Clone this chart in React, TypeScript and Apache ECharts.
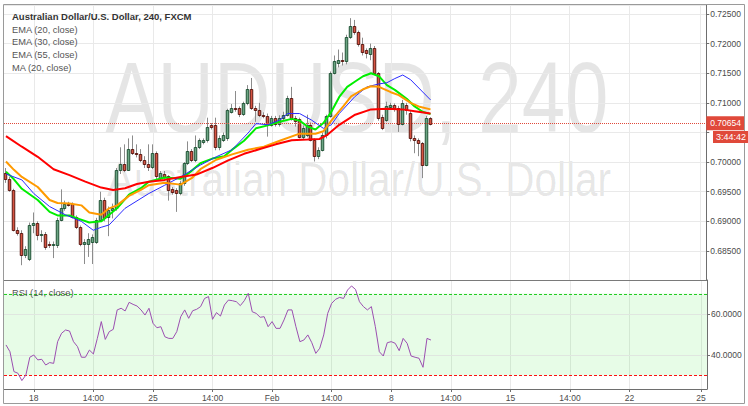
import React, { useEffect, useRef } from 'react';
import * as echarts from 'echarts';

// ---- x axis (4-hour slots) ----
const SLOT_COUNT = 177;
const tickLabels = ['18', '14:00', '25', '14:00', 'Feb', '14:00', '8', '14:00', '15', '14:00', '22', '25'];
const tickSlots = [7, 22, 37, 52, 67, 82, 97, 112, 127, 142, 157, 175];

// ---- AUD/USD 240 candles ----
const opens = [
  0.6981, 0.6971, 0.6953, 0.6885, 0.6880, 0.6843, 0.6836, 0.6894, 0.6897, 0.6877,
  0.6878, 0.6862, 0.6860, 0.6860, 0.6903, 0.6922, 0.6929, 0.6929, 0.6908, 0.6891,
  0.6862, 0.6862, 0.6866, 0.6866, 0.6903, 0.6936, 0.6908, 0.6919, 0.6922, 0.6987,
  0.6997, 0.6987, 0.7022, 0.7016, 0.7014, 0.7004, 0.6997, 0.6992, 0.7015, 0.6973,
  0.6980, 0.6976, 0.6955, 0.6953, 0.6948, 0.6964, 0.6998, 0.7018, 0.7004, 0.7026,
  0.7034, 0.7037, 0.7063, 0.7063, 0.7025, 0.7038, 0.7040, 0.7085, 0.7092, 0.7091,
  0.7081, 0.7099, 0.7124, 0.7092, 0.7088, 0.7080, 0.7078, 0.7063, 0.7074, 0.7064,
  0.7075, 0.7080, 0.7108, 0.7074, 0.7072, 0.7043, 0.7046, 0.7063, 0.7038, 0.7011,
  0.7021, 0.7046, 0.7077, 0.7151, 0.7168, 0.7172, 0.7170, 0.7212, 0.7229, 0.7220,
  0.7200, 0.7189, 0.7183, 0.7193, 0.7150, 0.7076, 0.7071, 0.7093, 0.7096, 0.7092,
  0.7065, 0.7097, 0.7083, 0.7041, 0.7037, 0.7032, 0.6995, 0.7074,
];
const closes = [
  0.6971, 0.6953, 0.6885, 0.6880, 0.6843, 0.6853, 0.6894, 0.6897, 0.6877, 0.6878,
  0.6857, 0.6860, 0.6862, 0.6903, 0.6922, 0.6929, 0.6928, 0.6908, 0.6891, 0.6862,
  0.6866, 0.6870, 0.6874, 0.6903, 0.6936, 0.6905, 0.6919, 0.6922, 0.6987, 0.6997,
  0.6987, 0.7022, 0.7016, 0.7014, 0.7004, 0.6997, 0.6992, 0.7015, 0.6976, 0.6981,
  0.6975, 0.6953, 0.6950, 0.6948, 0.6964, 0.6998, 0.7018, 0.7004, 0.7026, 0.7037,
  0.7037, 0.7060, 0.7060, 0.7025, 0.7040, 0.7045, 0.7088, 0.7092, 0.7090, 0.7081,
  0.7099, 0.7124, 0.7092, 0.7088, 0.7080, 0.7078, 0.7063, 0.7074, 0.7064, 0.7075,
  0.7080, 0.7108, 0.7074, 0.7070, 0.7043, 0.7057, 0.7063, 0.7038, 0.7011, 0.7021,
  0.7046, 0.7077, 0.7151, 0.7170, 0.7172, 0.7170, 0.7212, 0.7229, 0.7220, 0.7200,
  0.7186, 0.7184, 0.7193, 0.7150, 0.7074, 0.7057, 0.7094, 0.7096, 0.7091, 0.7065,
  0.7099, 0.7088, 0.7041, 0.7037, 0.7032, 0.6995, 0.7074, 0.7065,
];
const lows = [
  0.6965, 0.6950, 0.6883, 0.6876, 0.6826, 0.6838, 0.6833, 0.6880, 0.6868, 0.6865,
  0.6852, 0.6855, 0.6838, 0.6855, 0.6900, 0.6918, 0.6925, 0.6905, 0.6887, 0.6858,
  0.6828, 0.6840, 0.6828, 0.6862, 0.6900, 0.6900, 0.6875, 0.6905, 0.6918, 0.6980,
  0.6983, 0.6985, 0.7012, 0.7008, 0.7000, 0.6990, 0.6985, 0.6988, 0.6970, 0.6968,
  0.6970, 0.6935, 0.6945, 0.6916, 0.6944, 0.6960, 0.6995, 0.7000, 0.7000, 0.7022,
  0.7030, 0.7033, 0.7055, 0.7020, 0.7020, 0.7034, 0.7036, 0.7082, 0.7085, 0.7076,
  0.7078, 0.7096, 0.7088, 0.7068, 0.7076, 0.7074, 0.7043, 0.7060, 0.7060, 0.7060,
  0.7070, 0.7077, 0.7070, 0.7060, 0.7040, 0.7038, 0.7042, 0.7035, 0.7001, 0.7005,
  0.7018, 0.7040, 0.7075, 0.7148, 0.7160, 0.7163, 0.7165, 0.7208, 0.7215, 0.7195,
  0.7180, 0.7175, 0.7172, 0.7148, 0.7070, 0.7054, 0.7068, 0.7088, 0.7085, 0.7051,
  0.7062, 0.7080, 0.7035, 0.7015, 0.7010, 0.6973, 0.6993, 0.7062,
];
const highs = [
  0.6990, 0.6975, 0.6955, 0.6890, 0.6885, 0.6858, 0.6898, 0.6915, 0.6900, 0.6885,
  0.6882, 0.6866, 0.6866, 0.6906, 0.6954, 0.6935, 0.6933, 0.6932, 0.6910, 0.6893,
  0.6870, 0.6880, 0.6878, 0.6906, 0.6950, 0.6940, 0.6925, 0.6930, 0.6990, 0.7025,
  0.7030, 0.7040, 0.7045, 0.7030, 0.7022, 0.7010, 0.7030, 0.7030, 0.7018, 0.6985,
  0.6985, 0.6978, 0.6958, 0.6956, 0.6968, 0.7000, 0.7035, 0.7022, 0.7045, 0.7040,
  0.7040, 0.7075, 0.7066, 0.7075, 0.7045, 0.7050, 0.7090, 0.7098, 0.7120, 0.7094,
  0.7102, 0.7130, 0.7142, 0.7095, 0.7100, 0.7084, 0.7082, 0.7078, 0.7078, 0.7079,
  0.7085, 0.7112, 0.7127, 0.7078, 0.7075, 0.7062, 0.7080, 0.7067, 0.7040, 0.7025,
  0.7050, 0.7080, 0.7153, 0.7180, 0.7190, 0.7185, 0.7215, 0.7243, 0.7240, 0.7222,
  0.7210, 0.7192, 0.7200, 0.7196, 0.7152, 0.7080, 0.7102, 0.7100, 0.7099, 0.7095,
  0.7105, 0.7100, 0.7088, 0.7045, 0.7040, 0.7034, 0.7078, 0.7076,
];

// ---- indicator lines, read at slot positions ----
const ema20Green = [
  [0, 0.6984], [2, 0.6971], [4, 0.6955], [8, 0.6936], [11, 0.6916], [13, 0.6910], [16, 0.6910],
  [18, 0.6905], [21, 0.6898], [24, 0.6900], [26, 0.6911], [28, 0.6922], [31, 0.6945], [34, 0.6956],
  [36, 0.6967], [40, 0.6974], [44, 0.6972], [46, 0.6981], [49, 0.6998], [52, 0.7006], [55, 0.7010],
  [57, 0.7021], [60, 0.7036], [63, 0.7057], [66, 0.7062], [69, 0.7068], [72, 0.7073], [74, 0.7070],
  [76, 0.7060], [78, 0.7055], [80, 0.7066], [82, 0.7085], [84, 0.7110], [86, 0.7127], [88, 0.7136],
  [90, 0.7145], [92, 0.7150], [94, 0.7145], [96, 0.7130], [98, 0.7122], [101, 0.7107], [103, 0.7094],
  [105, 0.7085], [107, 0.7081],
];
const ma20Blue = [
  [0, 0.6980], [4, 0.6970], [7, 0.6947], [11, 0.6925], [15, 0.6911], [19, 0.6900], [22, 0.6885],
  [24, 0.6890], [26, 0.6894], [30, 0.6922], [36, 0.6947], [40, 0.6961], [44, 0.6975], [49, 0.6995],
  [53, 0.7009], [57, 0.7021], [61, 0.7049], [63, 0.7065], [66, 0.7063], [69, 0.7071], [71, 0.7082],
  [74, 0.7082], [77, 0.7071], [80, 0.7057], [82, 0.7063], [84, 0.7082], [88, 0.7111], [91, 0.7127],
  [94, 0.7132], [96, 0.7134], [98, 0.7141], [100, 0.7147], [102, 0.7139], [107, 0.7105],
];
const ema30Orange = [
  [0, 0.7001], [2, 0.6987], [4, 0.6975], [8, 0.6958], [11, 0.6936], [13, 0.6931], [16, 0.6930],
  [19, 0.6927], [21, 0.6915], [24, 0.6911], [26, 0.6922], [28, 0.6927], [31, 0.6943], [34, 0.6953],
  [36, 0.6961], [40, 0.6965], [44, 0.6962], [47, 0.6974], [49, 0.6988], [53, 0.7004], [57, 0.7013],
  [61, 0.7021], [65, 0.7026], [69, 0.7036], [74, 0.7048], [78, 0.7048], [80, 0.7052], [82, 0.7070],
  [85, 0.7094], [87, 0.7111], [90, 0.7123], [92, 0.7128], [94, 0.7127], [97, 0.7118], [99, 0.7113],
  [102, 0.7100], [104, 0.7094], [107, 0.7089],
];
const ema55Red = [
  [0, 0.7044], [4, 0.7026], [8, 0.7009], [12, 0.6988], [16, 0.6978], [20, 0.6967], [24, 0.6957],
  [27, 0.6953], [30, 0.6956], [33, 0.6963], [36, 0.6967], [40, 0.6970], [44, 0.6975], [48, 0.6979],
  [52, 0.6990], [56, 0.7003], [60, 0.7014], [64, 0.7022], [68, 0.7030], [72, 0.7037], [76, 0.7038],
  [79, 0.7039], [81, 0.7046], [84, 0.7063], [88, 0.7080], [92, 0.7089], [96, 0.7090], [100, 0.7089],
  [103, 0.7086], [107, 0.7082],
];

// ---- RSI (14, close) ----
const rsiValues = [
  44.9, 41.6, 31.9, 31.1, 27.5, 30.2, 38.9, 40.0, 37.6, 37.9,
  35.1, 36.3, 35.9, 46.5, 50.6, 52.2, 51.7, 46.5, 44.1, 38.9,
  38.9, 42.4, 40.5, 48.1, 56.3, 47.6, 51.4, 52.5, 62.0, 62.8,
  61.5, 65.7, 64.7, 63.9, 62.0, 59.5, 62.8, 55.5, 53.3, 53.8,
  48.9, 48.1, 48.1, 51.4, 58.7, 62.0, 57.9, 61.6, 62.3, 63.6,
  67.6, 68.5, 57.4, 60.7, 59.0, 64.4, 66.8, 66.5, 66.0, 64.1,
  66.5, 70.1, 61.1, 60.3, 58.4, 58.7, 53.8, 56.3, 53.0, 53.0,
  57.1, 62.0, 62.0, 53.8, 46.5, 47.3, 49.8, 46.0, 40.8, 43.3,
  49.8, 60.3, 65.2, 67.2, 68.1, 67.6, 71.7, 73.7, 72.0, 66.0,
  63.6, 62.0, 63.6, 53.8, 41.6, 39.5, 46.0, 46.5, 45.7, 42.1,
  48.1, 45.7, 39.5, 38.9, 38.4, 34.0, 48.1, 47.3,
];
const rsiBand = [30, 70];
const rsiGridValues = [40, 60];

const lastPrice = 0.70654;
const countdown = '3:44:42';
const legendTitle = 'Australian Dollar/U.S. Dollar, 240, FXCM';
const legendStudies = ['EMA (20, close)', 'EMA (30, close)', 'EMA (55, close)', 'MA (20, close)'];

const FONT = '"Liberation Sans", Arial, sans-serif';
const AXIS_TXT = '#4a4a4a';
const PRICE_RED = '#e0493a';

// full-width horizontal rule drawn through the axis scale
const hRule = (name: string, xAxisIndex: number, yAxisIndex: number, value: number,
  stroke: string, dash: number[] | null, z: number) => ({
  type: 'custom',
  name,
  xAxisIndex,
  yAxisIndex,
  data: [[0, value]],
  encode: { x: 0, y: 1 },
  silent: true,
  z,
  clip: false,
  renderItem: (params: any, api: any) => {
    const cs = params.coordSys;
    const y = Math.round(api.coord([0, api.value(1)])[1]) + 0.5;
    return {
      type: 'line',
      shape: { x1: cs.x, y1: y, x2: cs.x + cs.width, y2: y },
      style: { stroke, lineWidth: 1, lineDash: dash || undefined },
    };
  },
});

export default function App() {
  const ref = useRef<HTMLDivElement>(null);

  useEffect(() => {
    if (!ref.current) return;
    const chart = echarts.init(ref.current, undefined, { renderer: 'svg' });
    const slots = Array.from({ length: SLOT_COUNT }, (_, i) => String(i));
    const isTick = (i: number) => tickSlots.indexOf(i) >= 0;
    const candleData = opens.map((o, i) => [i, o, closes[i], lows[i], highs[i]]);
    const rsiData = rsiValues.map((v, i) => [i, v]);

    const xBase = (gridIndex: number, showLabels: boolean) => ({
      type: 'category',
      gridIndex,
      data: slots,
      boundaryGap: true,
      axisLine: { show: showLabels, lineStyle: { color: '#6e6e6e', width: 1 } },
      axisTick: {
        show: showLabels,
        alignWithLabel: true,
        interval: (i: number) => isTick(i),
        length: 3,
        lineStyle: { color: '#6e6e6e' },
      },
      axisLabel: {
        show: showLabels,
        interval: (i: number) => isTick(i),
        formatter: (v: string) => {
          const k = tickSlots.indexOf(Number(v));
          return k >= 0 ? tickLabels[k] : '';
        },
        color: AXIS_TXT,
        fontSize: 8.5,
        fontFamily: FONT,
        margin: 4,
      },
      splitLine: {
        show: true,
        alignWithLabel: true,
        interval: (i: number) => isTick(i),
        lineStyle: { color: '#e9e9e9', width: 1 },
      },
    });

    const lineSeries = (
      name: string, data: number[][], color: string, width: number,
      xAxisIndex = 0, yAxisIndex = 0, z = 5,
    ) => ({
      name,
      type: 'line',
      xAxisIndex,
      yAxisIndex,
      data,
      showSymbol: false,
      symbol: 'none',
      lineStyle: { color, width },
      z,
      silent: true,
    });

    const option: any = {
      animation: false,
      backgroundColor: '#ffffff',
      grid: [
        { left: 4, top: 5.11, width: 703, height: 275.5, show: false },
        { left: 4, top: 280, width: 703, height: 109, show: false },
      ],
      xAxis: [xBase(0, false), xBase(1, true)],
      yAxis: [
        {
          type: 'value',
          gridIndex: 0,
          position: 'right',
          min: 0.68,
          max: 0.7265,
          interval: 0.005,
          axisLine: { show: true, lineStyle: { color: '#6e6e6e' } },
          axisTick: { show: true, length: 3, lineStyle: { color: '#6e6e6e' } },
          axisLabel: {
            showMinLabel: false,
            showMaxLabel: false,
            // the label next to the live price is hidden under the price/countdown boxes
            formatter: (v: number) => (Math.abs(v - lastPrice) < 0.0025 ? '' : v.toFixed(5)),
            color: AXIS_TXT,
            fontSize: 8.5,
            fontFamily: FONT,
            margin: 4,
          },
          splitLine: { show: true, lineStyle: { color: '#e9e9e9' } },
        },
        {
          type: 'value',
          gridIndex: 1,
          position: 'right',
          min: 23.4,
          max: 76.6,
          axisLine: { show: true, lineStyle: { color: '#6e6e6e' } },
          axisTick: { show: true, length: 3, customValues: rsiGridValues, lineStyle: { color: '#6e6e6e' } },
          axisLabel: {
            customValues: rsiGridValues,
            formatter: (v: number) => v.toFixed(4),
            color: AXIS_TXT,
            fontSize: 8.5,
            fontFamily: FONT,
            margin: 4,
          },
          splitLine: { show: false },
        },
        {
          // live-price tag on the price scale
          type: 'value',
          gridIndex: 0,
          position: 'right',
          min: 0.68,
          max: 0.7265,
          axisLine: { show: false },
          axisTick: { show: false },
          splitLine: { show: false },
          axisLabel: {
            customValues: [lastPrice],
            formatter: (v: number) => v.toFixed(5),
            color: '#ffffff',
            backgroundColor: PRICE_RED,
            padding: [3, 4, 2, 4],
            fontSize: 8.5,
            fontFamily: FONT,
            margin: 0,
          },
          z: 20,
        },
      ],
      graphic: [
        {
          type: 'text', x: 357, y: 97, z: -10, silent: true, scaleY: 1.28,
          style: { text: 'AUDUSD, 240', font: `78px ${FONT}`, fill: 'rgba(0,0,0,0.1)', textAlign: 'center', textVerticalAlign: 'middle' },
        },
        {
          type: 'text', x: 359, y: 179, z: -10, silent: true, scaleY: 1.2,
          style: { text: 'Australian Dollar/U.S. Dollar', font: `40.5px ${FONT}`, fill: 'rgba(0,0,0,0.1)', textAlign: 'center', textVerticalAlign: 'middle' },
        },
        {
          type: 'text', x: 12, y: 16, z: 50, silent: true,
          style: { text: legendTitle, font: `bold 9.5px ${FONT}`, fill: '#333333', textVerticalAlign: 'middle' },
        },
        ...legendStudies.map((t, k) => ({
          type: 'text', x: 12, y: 29.5 + k * 12.9, z: 50, silent: true,
          style: { text: t, font: `9.3px ${FONT}`, fill: '#555555', textVerticalAlign: 'middle' },
        })),
        {
          type: 'text', x: 12, y: 293, z: 50, silent: true,
          style: { text: 'RSI (14, close)', font: `9.3px ${FONT}`, fill: '#555555', textVerticalAlign: 'middle' },
        },
        {
          type: 'text', x: 713, y: 137, z: 60, silent: true,
          style: {
            text: countdown, font: `9px ${FONT}`, fill: '#ffffff', textVerticalAlign: 'middle',
            backgroundColor: PRICE_RED, padding: [2, 4, 1, 3],
          },
        },
        {
          type: 'line', z: 40, silent: true,
          shape: { x1: 4, y1: 280.5, x2: 707, y2: 280.5 },
          style: { stroke: '#7a7a7a', lineWidth: 1 },
        },
        {
          type: 'rect', z: 40, silent: true,
          shape: { x: 3.5, y: 4.5, width: 741, height: 399 },
          style: { fill: 'none', stroke: '#9a9a9a', lineWidth: 1 },
        },
      ],
      series: [
        {
          type: 'custom',
          name: 'AUDUSD',
          xAxisIndex: 0,
          yAxisIndex: 0,
          data: candleData,
          encode: { x: 0, y: [1, 2, 3, 4] },
          z: 3,
          silent: true,
          renderItem: (params: any, api: any) => {
            const i = api.value(0);
            const o = api.value(1);
            const c = api.value(2);
            const l = api.value(3);
            const h = api.value(4);
            const pO = api.coord([i, o]);
            const pC = api.coord([i, c]);
            const pL = api.coord([i, l]);
            const pH = api.coord([i, h]);
            const cx = Math.round(pO[0]);
            const up = c >= o;
            const top = Math.round(Math.min(pO[1], pC[1]));
            const bot = Math.round(Math.max(pO[1], pC[1]));
            return {
              type: 'group',
              children: [
                {
                  type: 'line',
                  shape: { x1: cx - 0.5, y1: pH[1], x2: cx - 0.5, y2: pL[1] },
                  style: { stroke: '#8c8c8c', lineWidth: 1 },
                },
                {
                  type: 'rect',
                  shape: { x: cx - 1.75, y: top + 0.5, width: 2.5, height: Math.max(bot - top, 1) },
                  style: {
                    fill: up ? '#6ba583' : '#d75442',
                    stroke: up ? '#225437' : '#5b1a13',
                    lineWidth: 1,
                  },
                },
              ],
            };
          },
        },
        hRule('last price', 0, 0, lastPrice, PRICE_RED, [1, 1], 4),
        lineSeries('EMA (20, close)', ema20Green, '#00ee00', 2),
        lineSeries('MA (20, close)', ma20Blue, '#2b2bff', 1),
        lineSeries('EMA (30, close)', ema30Orange, '#ff9a00', 2),
        lineSeries('EMA (55, close)', ema55Red, '#ff0000', 2),
        // RSI pane
        {
          ...lineSeries('RSI band', [], '#000', 0, 1, 1, 1),
          markArea: {
            silent: true,
            itemStyle: { color: 'rgba(40, 230, 40, 0.11)' },
            data: [[{ yAxis: rsiBand[0] }, { yAxis: rsiBand[1] }]],
          },
        },
        ...rsiGridValues.map((v) => hRule(`rsi grid ${v}`, 1, 1, v, '#e0e6e0', null, 2)),
        hRule('RSI upper', 1, 1, rsiBand[1], '#22cc22', [3, 2], 3),
        hRule('RSI lower', 1, 1, rsiBand[0], '#ff1010', [3, 2], 3),
        lineSeries('RSI (14, close)', rsiData, '#9b4fb0', 1, 1, 1, 5),
      ],
    };

    chart.setOption(option);
    return () => chart.dispose();
  }, []);

  return (
    <div
      ref={ref}
      style={{ position: 'fixed', left: 0, top: 0, width: 748, height: 406, background: '#fff' }}
    />
  );
}
